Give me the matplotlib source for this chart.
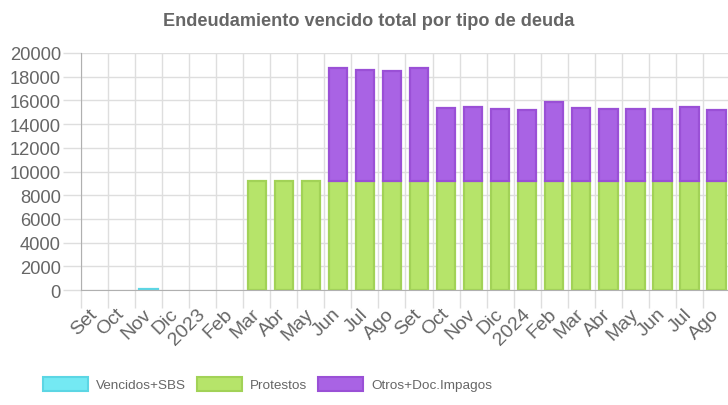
import numpy as np
import matplotlib.pyplot as plt
from matplotlib.patches import Patch

# datos
meses = ["Set", "Oct", "Nov", "Dic", "2023", "Feb", "Mar", "Abr", "May", "Jun", "Jul", "Ago",
         "Set", "Oct", "Nov", "Dic", "2024", "Feb", "Mar", "Abr", "May", "Jun", "Jul", "Ago"]
vencidos_sbs = [0, 0, 50, 0, 0, 0, 0, 0, 0, 0, 0, 0,
                0, 0, 0, 0, 0, 0, 0, 0, 0, 0, 0, 0]
protestos = [0, 0, 0, 0, 0, 0, 9200, 9200, 9200, 9200, 9200, 9200,
             9200, 9200, 9200, 9200, 9200, 9200, 9200, 9200, 9200, 9200, 9200, 9200]
otros_doc = [0, 0, 0, 0, 0, 0, 0, 0, 0, 9500, 9360, 9300,
             9530, 6180, 6240, 6070, 6020, 6700, 6160, 6050, 6100, 6070, 6240, 6020]

series = [
    ("Vencidos+SBS", vencidos_sbs, "#74e9f3", "#5cd6e4"),
    ("Protestos", protestos, "#b6e46a", "#a2d257"),
    ("Otros+Doc.Impagos", otros_doc, "#a963e4", "#9a50d6"),
]

GRIS_TXT = "#666666"
GRID = "#dedede"
EJE = "#b0b0b0"
FUENTE = ["Liberation Sans", "DejaVu Sans"]

fig = plt.figure(figsize=(7.28, 4.06), dpi=100)
ax = fig.add_axes([81 / 728, 115 / 406, 649 / 728, 237 / 406])

x = np.arange(len(meses))
base = np.zeros(len(meses))
for nombre, vals, fill, borde in series:
    vals = np.array(vals, dtype=float)
    bordes = [borde if v > 0 else "none" for v in vals]
    ax.bar(x, vals, width=0.68, bottom=base, color=fill, edgecolor=bordes,
           linewidth=1.6, zorder=3)
    base = base + vals

ax.set_xlim(-0.5, len(meses) - 0.5)
ax.set_ylim(0, 20000)
ax.set_yticks(np.arange(0, 20001, 2000))

ax.set_xticks(x)
ax.set_xticklabels(meses, rotation=45, ha="right", va="center",
                   rotation_mode="anchor", fontsize=14, color=GRIS_TXT, family=FUENTE)
ax.set_xticks(np.arange(-0.5, len(meses), 1), minor=True)
ax.tick_params(axis="x", which="major", length=0, pad=15)
ax.tick_params(axis="x", which="minor", length=13, color=GRID, width=1)
ax.tick_params(axis="y", length=13, color=GRID, width=1, pad=1.5,
               labelsize=13.2, labelcolor=GRIS_TXT)
for lbl in ax.get_yticklabels():
    lbl.set_family(FUENTE)

ax.grid(True, which="minor", axis="x", color=GRID, linewidth=1, zorder=0)
ax.grid(True, which="major", axis="y", color=GRID, linewidth=1, zorder=0)

for lado in ["top", "right"]:
    ax.spines[lado].set_visible(False)
ax.spines["left"].set_color(EJE)
ax.spines["bottom"].set_color(EJE)
ax.spines["left"].set_zorder(4)
ax.spines["bottom"].set_zorder(4)

fig.text(369 / 728, 1 - 22 / 406, "Endeudamiento vencido total por tipo de deuda",
         ha="center", va="center", fontsize=13.1, fontweight="bold", color=GRIS_TXT,
         family=FUENTE)

handles = [Patch(facecolor=f, edgecolor=b, linewidth=1.5, label=n)
           for n, _, f, b in series]
leg = fig.legend(handles=handles, loc="center left", bbox_to_anchor=(43 / 728, 1 - 385 / 406),
                 ncol=3, frameon=False, handlelength=3.35, handleheight=1.2,
                 handletextpad=0.6, columnspacing=0.8, borderpad=0, borderaxespad=0,
                 prop={"family": FUENTE, "size": 9.7})
for t in leg.get_texts():
    t.set_color(GRIS_TXT)

fig.savefig("out.png", dpi=100)
